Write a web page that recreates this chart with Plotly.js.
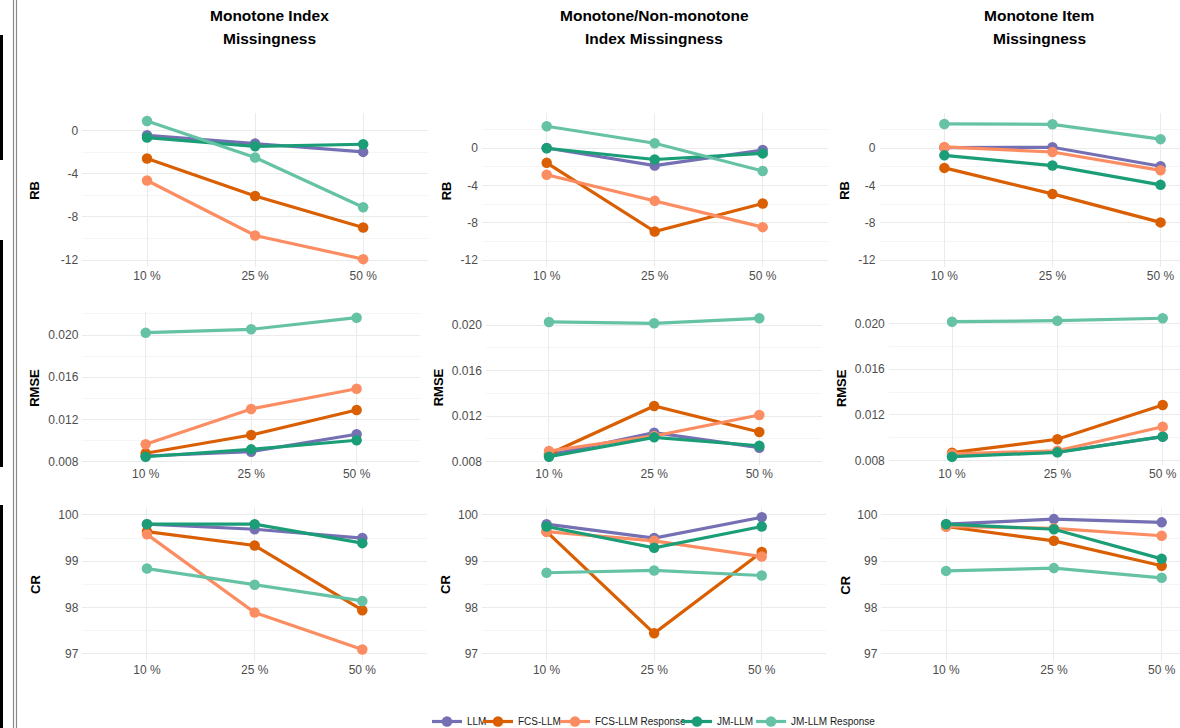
<!DOCTYPE html>
<html><head><meta charset="utf-8">
<script src="https://cdn.plot.ly/plotly-3.0.1.min.js"></script>
<style>html,body{margin:0;padding:0;background:#fff}#chart{width:1180px;height:728px}</style>
</head><body><div id="chart"></div>
<script>
// ---------- data ----------
const categories = ["10 %", "25 %", "50 %"];
const methods = ["LLM", "FCS-LLM", "FCS-LLM Response", "JM-LLM", "JM-LLM Response"];
const colors = ["#7570B3", "#D95F02", "#FC8D62", "#1B9E77", "#66C2A5"];
const titleLine1 = ["Monotone Index", "Monotone/Non-monotone", "Monotone Item"];
const titleLine2 = ["Missingness", "Index Missingness", "Missingness"];
const metricNames = ["RB", "RMSE", "CR"];

// rows of each panel follow the order of `methods`
const rbMonoIndex    = [[-0.42,-1.19,-1.96],[-2.58,-6.05,-8.98],[-4.62,-9.72,-11.92],[-0.63,-1.44,-1.25],[0.91,-2.49,-7.10]];
const rbMonoNonMono  = [[0.00,-1.88,-0.22],[-1.59,-8.95,-5.94],[-2.86,-5.65,-8.48],[-0.03,-1.23,-0.58],[2.33,0.51,-2.46]];
const rbMonoItem     = [[0.04,0.08,-1.96],[-2.13,-4.92,-7.97],[0.11,-0.43,-2.39],[-0.79,-1.88,-3.95],[2.58,2.54,0.95]];

const rmseMonoIndex   = [[0.00854,0.00895,0.01060],[0.00880,0.01053,0.01290],[0.00965,0.01299,0.01491],[0.00847,0.00917,0.01003],[0.02022,0.02054,0.02164]];
const rmseMonoNonMono = [[0.00859,0.01055,0.00923],[0.00868,0.01289,0.01061],[0.00894,0.01026,0.01210],[0.00844,0.01014,0.00940],[0.02027,0.02015,0.02059]];
const rmseMonoItem    = [[0.00841,0.00876,0.01010],[0.00870,0.00987,0.01286],[0.00859,0.00887,0.01097],[0.00835,0.00873,0.01010],[0.02014,0.02023,0.02044]];

const crMonoIndex   = [[99.80,99.69,99.50],[99.64,99.34,97.94],[99.58,97.89,97.09],[99.80,99.80,99.39],[98.84,98.49,98.14]];
const crMonoNonMono = [[99.80,99.50,99.95],[99.64,97.44,99.20],[99.64,99.44,99.10],[99.75,99.29,99.75],[98.75,98.80,98.69]];
const crMonoItem    = [[99.80,99.91,99.84],[99.75,99.44,98.90],[99.75,99.71,99.55],[99.80,99.69,99.05],[98.79,98.85,98.64]];

const rbTicks = [-12, -8, -4, 0];
const rbTickText = ["-12", "-8", "-4", "0"];
const rbMinor = [-10, -6, -2, 2];
const rmseTicks = [0.008, 0.012, 0.016, 0.020];
const rmseTickText = ["0.008", "0.012", "0.016", "0.020"];
const rmseMinor = [0.010, 0.014, 0.018, 0.022];
const crTicks = [97, 98, 99, 100];
const crTickText = ["97", "98", "99", "100"];
const crMinor = [97.5, 98.5, 99.5];

// ---------- geometry / styling ----------
const W = 1180, H = 728;
const panelData = [rbMonoIndex, rbMonoNonMono, rbMonoItem,
                   rmseMonoIndex, rmseMonoNonMono, rmseMonoItem,
                   crMonoIndex, crMonoNonMono, crMonoItem];
// pixel boxes [left, right, top, bottom]
const boxes = [
  [82.2, 428, 113, 267], [481.9, 827.5, 113, 267], [879.5, 1180, 113, 267],
  [82.4, 419.9, 311.7, 465], [485.9, 822.4, 311.7, 465], [888.8, 1180, 311.7, 465],
  [82.4, 426.9, 508, 660.6], [482, 826.3, 508, 660.6], [881.4, 1180, 508, 660.6]
];
const xRanges = [[-0.6,2.6],[-0.6,2.6],[-0.6,2.18],[-0.6,2.6],[-0.6,2.6],[-0.6,2.164],[-0.6,2.6],[-0.6,2.6],[-0.6,2.17]];
const yRanges = [[-12.65,1.65],[-12.75,3.75],[-12.75,3.75],
                 [0.007687,0.022207],[0.00771,0.021168],[0.007624,0.021013],
                 [96.85,100.15],[96.85,100.15],[96.85,100.15]];
const rowTicks = [[rbTicks, rbTickText, rbMinor],[rmseTicks, rmseTickText, rmseMinor],[crTicks, crTickText, crMinor]];
const legendSymbolX = [447, 498, 575, 697, 771];

const FONT = "Liberation Sans, Arial, Helvetica, sans-serif";
const GRID = "#EBEBEB";
const traces = [];
const layout = {
  width: W, height: H,
  margin: {l:0, r:0, t:0, b:0, autoexpand: false},
  paper_bgcolor: "#fff", plot_bgcolor: "#fff",
  font: {family: FONT, color: "#4D4D4D", size: 12},
  showlegend: true,
  annotations: [],
  shapes: []
};
methods.forEach((m, k) => {
  const key = k === 0 ? "legend" : "legend" + (k + 1);
  layout[key] = {orientation: "h", x: (legendSymbolX[k] - 20) / W, xanchor: "left", y: 1 - 721.5/H, yanchor: "middle",
    font: {size: 10, color: "#1A1A1A", family: FONT}, bgcolor: "rgba(0,0,0,0)", borderwidth: 0, itemwidth: 30};
});

for (let p = 0; p < 9; p++) {
  const r = Math.floor(p / 3);
  const id = p === 0 ? "" : String(p + 1);
  const b = boxes[p];
  layout["xaxis" + id] = {
    domain: [b[0]/W, b[1]/W], anchor: "y" + id, type: "category",
    categoryorder: "array", categoryarray: categories, range: xRanges[p],
    showgrid: true, gridcolor: GRID, gridwidth: 1, zeroline: false, showline: false, ticks: "",
    tickfont: {size: 12, color: "#4D4D4D", family: FONT}, fixedrange: true
  };
  layout["yaxis" + id] = {
    domain: [1 - b[3]/H, 1 - b[2]/H], anchor: "x" + id, range: yRanges[p],
    tickmode: "array", tickvals: rowTicks[r][0], ticktext: rowTicks[r][1],
    showgrid: true, gridcolor: GRID, gridwidth: 1, zeroline: false, showline: false, ticks: "",
    minor: {tickmode: "array", tickvals: rowTicks[r][2], showgrid: true, gridcolor: "#F3F3F3", gridwidth: 0.8, ticks: ""},
    tickfont: {size: 12, color: "#4D4D4D", family: FONT}, ticklabelstandoff: 3, fixedrange: true
  };
  const vals = panelData[p];
  for (let m = 0; m < methods.length; m++) {
    traces.push({
      type: "scatter", mode: "lines+markers",
      x: categories, y: vals[m],
      xaxis: "x" + id, yaxis: "y" + id,
      name: methods[m], legendgroup: methods[m], showlegend: p === 0,
      legend: m === 0 ? "legend" : "legend" + (m + 1),
      line: {color: colors[m], width: 3.2},
      marker: {color: colors[m], size: 10.5, line: {width: 0}},
      hoverinfo: "x+y+name"
    });
  }
}

// column titles
const titleX = [269, 654, 1039];
for (let c = 0; c < 3; c++) {
  layout.annotations.push({xref: "paper", yref: "paper", x: titleX[c]/W, y: 1 - 15.5/H, xanchor: "center", yanchor: "middle",
    text: "<b>" + titleLine1[c] + "</b>", showarrow: false, font: {size: 15.5, color: "#000", family: FONT}});
  layout.annotations.push({xref: "paper", yref: "paper", x: titleX[c]/W, y: 1 - 38/H, xanchor: "center", yanchor: "middle",
    text: "<b>" + titleLine2[c] + "</b>", showarrow: false, font: {size: 15.5, color: "#000", family: FONT}});
}
// axis titles
const ytX = [[35, 446.5, 845], [35, 438.5, 841.3], [35, 445, 844.7]];
const ytY = [190.8, 387.8, 585];
for (let r = 0; r < 3; r++) for (let c = 0; c < 3; c++) {
  layout.annotations.push({xref: "paper", yref: "paper", x: ytX[r][c]/W, y: 1 - ytY[r]/H, xanchor: "center", yanchor: "middle",
    text: "<b>" + metricNames[r] + "</b>", textangle: -90, showarrow: false, font: {size: 13, color: "#000", family: FONT}});
}
// left edge artefacts of the screenshot
const barSpans = [[35, 160], [240, 467], [505, 728]];
barSpans.forEach(s => layout.shapes.push({type: "rect", xref: "paper", yref: "paper", x0: 0, x1: 3/W, y0: 1 - s[1]/H, y1: 1 - s[0]/H,
  fillcolor: "#000", line: {width: 0}, layer: "above"}));
[13.5, 16.5].forEach(xp => layout.shapes.push({type: "line", xref: "paper", yref: "paper", x0: xp/W, x1: xp/W, y0: 0, y1: 1,
  line: {color: "#8C8C8C", width: 1.2}, layer: "above"}));

Plotly.newPlot("chart", traces, layout, {displayModeBar: false, staticPlot: true});
</script>
</body></html>
